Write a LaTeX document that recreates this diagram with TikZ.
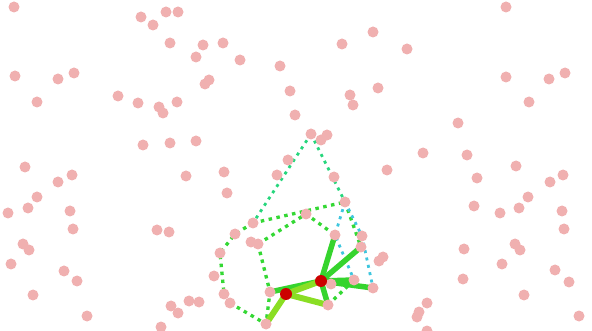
\documentclass[tikz,border=0pt]{standalone}
\usetikzlibrary{backgrounds}

\definecolor{dotpink}{RGB}{240,176,176}
\definecolor{hubred}{RGB}{204,0,0}
\definecolor{linkdark}{RGB}{54,212,46}
\definecolor{linklight}{RGB}{138,222,36}
\definecolor{pathteal}{RGB}{38,214,124}
\definecolor{pathgreen}{RGB}{52,216,52}
\definecolor{pathcyan}{RGB}{62,198,222}

\begin{document}
\begin{tikzpicture}[
  x=1pt, y=-1pt,
  dot/.style={circle, fill=dotpink, inner sep=0pt, minimum size=11pt},
  hub/.style={circle, fill=hubred, inner sep=0pt, minimum size=12pt},
  strong/.style={line width=5.5pt, linkdark},
  weak/.style={line width=6pt, linklight},
  tealpath/.style={line width=2.8pt, pathteal, dash pattern=on 3pt off 4.5pt},
  greenpath/.style={line width=3.3pt, pathgreen, dash pattern=on 3.5pt off 4.5pt},
  cyanpath/.style={line width=2.8pt, pathcyan, dash pattern=on 3pt off 4.5pt}
]
\useasboundingbox (0,0) rectangle (592,331);

% loose points
\foreach \px/\py [count=\i] in {
  14/7, 141/17, 153/25, 166/12, 178/12, 170/43, 203/45, 223/43, 196/57,
  240/60, 280/66, 15/76, 58/79, 74/73, 37/102, 118/96, 138/103, 159/107,
  163/113, 177/102, 205/84, 209/80, 290/91, 295/115, 143/145, 170/143,
  196/141, 506/7, 373/32, 342/44, 407/49, 506/77, 549/79, 565/73, 529/102,
  378/88, 350/95, 353/105, 458/123, 327/135, 321/140, 423/153, 467/155,
  516/166, 387/170, 25/167, 58/182, 72/175, 37/197, 28/208, 8/213, 70/211,
  73/229, 23/244, 29/250, 11/264, 64/271, 77/281, 33/295, 87/316, 186/176,
  224/172, 227/193, 157/230, 169/232, 277/175, 288/160, 251/242, 214/276,
  171/306, 178/313, 189/301, 199/302, 161/327, 334/177, 383/257, 379/261,
  331/284, 427/303, 419/312, 417/317, 427/331, 477/178, 550/182, 563/175,
  528/197, 474/206, 500/213, 519/208, 562/211, 564/229, 464/249, 515/244,
  520/250, 502/264, 463/279, 555/270, 569/282, 524/295, 579/316}
  \node[dot] (d\i) at (\px,\py) {};

% points on the paths
\node[dot] (crest) at (311,134) {};
\node[dot] (nw) at (253,223) {};
\node[dot] (ne) at (345,202) {};
\node[dot] (mid) at (306,214) {};
\node[dot] (inl) at (258,244) {};
\node[dot] (w1) at (235,234) {};
\node[dot] (w2) at (220,253) {};
\node[dot] (w3) at (224,294) {};
\node[dot] (w4) at (230,303) {};
\node[dot] (s1) at (270,292) {};
\node[dot] (s2) at (266,324) {};
\node[dot] (e1) at (335,235) {};
\node[dot] (e2) at (362,236) {};
\node[dot] (e3) at (361,247) {};
\node[dot] (e4) at (354,280) {};
\node[dot] (e5) at (373,288) {};
\node[dot] (e6) at (328,305) {};

\node[hub] (hub) at (321,281) {};
\node[hub] (root) at (286,294) {};

\begin{scope}[on background layer]
\draw[tealpath] (crest.center) -- (nw.center);
\draw[tealpath] (crest.center) -- (ne.center);

\draw[greenpath] (nw.center) -- (ne.center);
\draw[greenpath] (inl.center) -- (mid.center) -- (e1.center);
\draw[greenpath] (ne.center) -- (e3.center);
\draw[greenpath] (inl.center) -- (s1.center) -- (s2.center);
\draw[greenpath] (nw.center) -- (w1.center) -- (w2.center) -- (w3.center);
\draw[greenpath] (w4.center) -- (s2.center);
\draw[greenpath] (e6.center) -- (e4.center);

\draw[cyanpath] (ne.center) -- (e1.center) -- (e4.center);
\draw[cyanpath] (ne.center) -- (e2.center) -- (e5.center);

\draw[strong] (hub.center) -- (e1.center);
\draw[strong] (hub.center) -- (e3.center);
\draw[strong] (hub.center) -- (e4.center);
\draw[strong] (hub.center) -- (e5.center);
\draw[strong] (hub.center) -- (e6.center);
\draw[strong] (s1.center) -- (hub.center);

\draw[weak] (root.center) -- (hub.center);
\draw[weak] (root.center) -- (e6.center);
\draw[weak] (root.center) -- (s2.center);
\end{scope}
\end{tikzpicture}
\end{document}
